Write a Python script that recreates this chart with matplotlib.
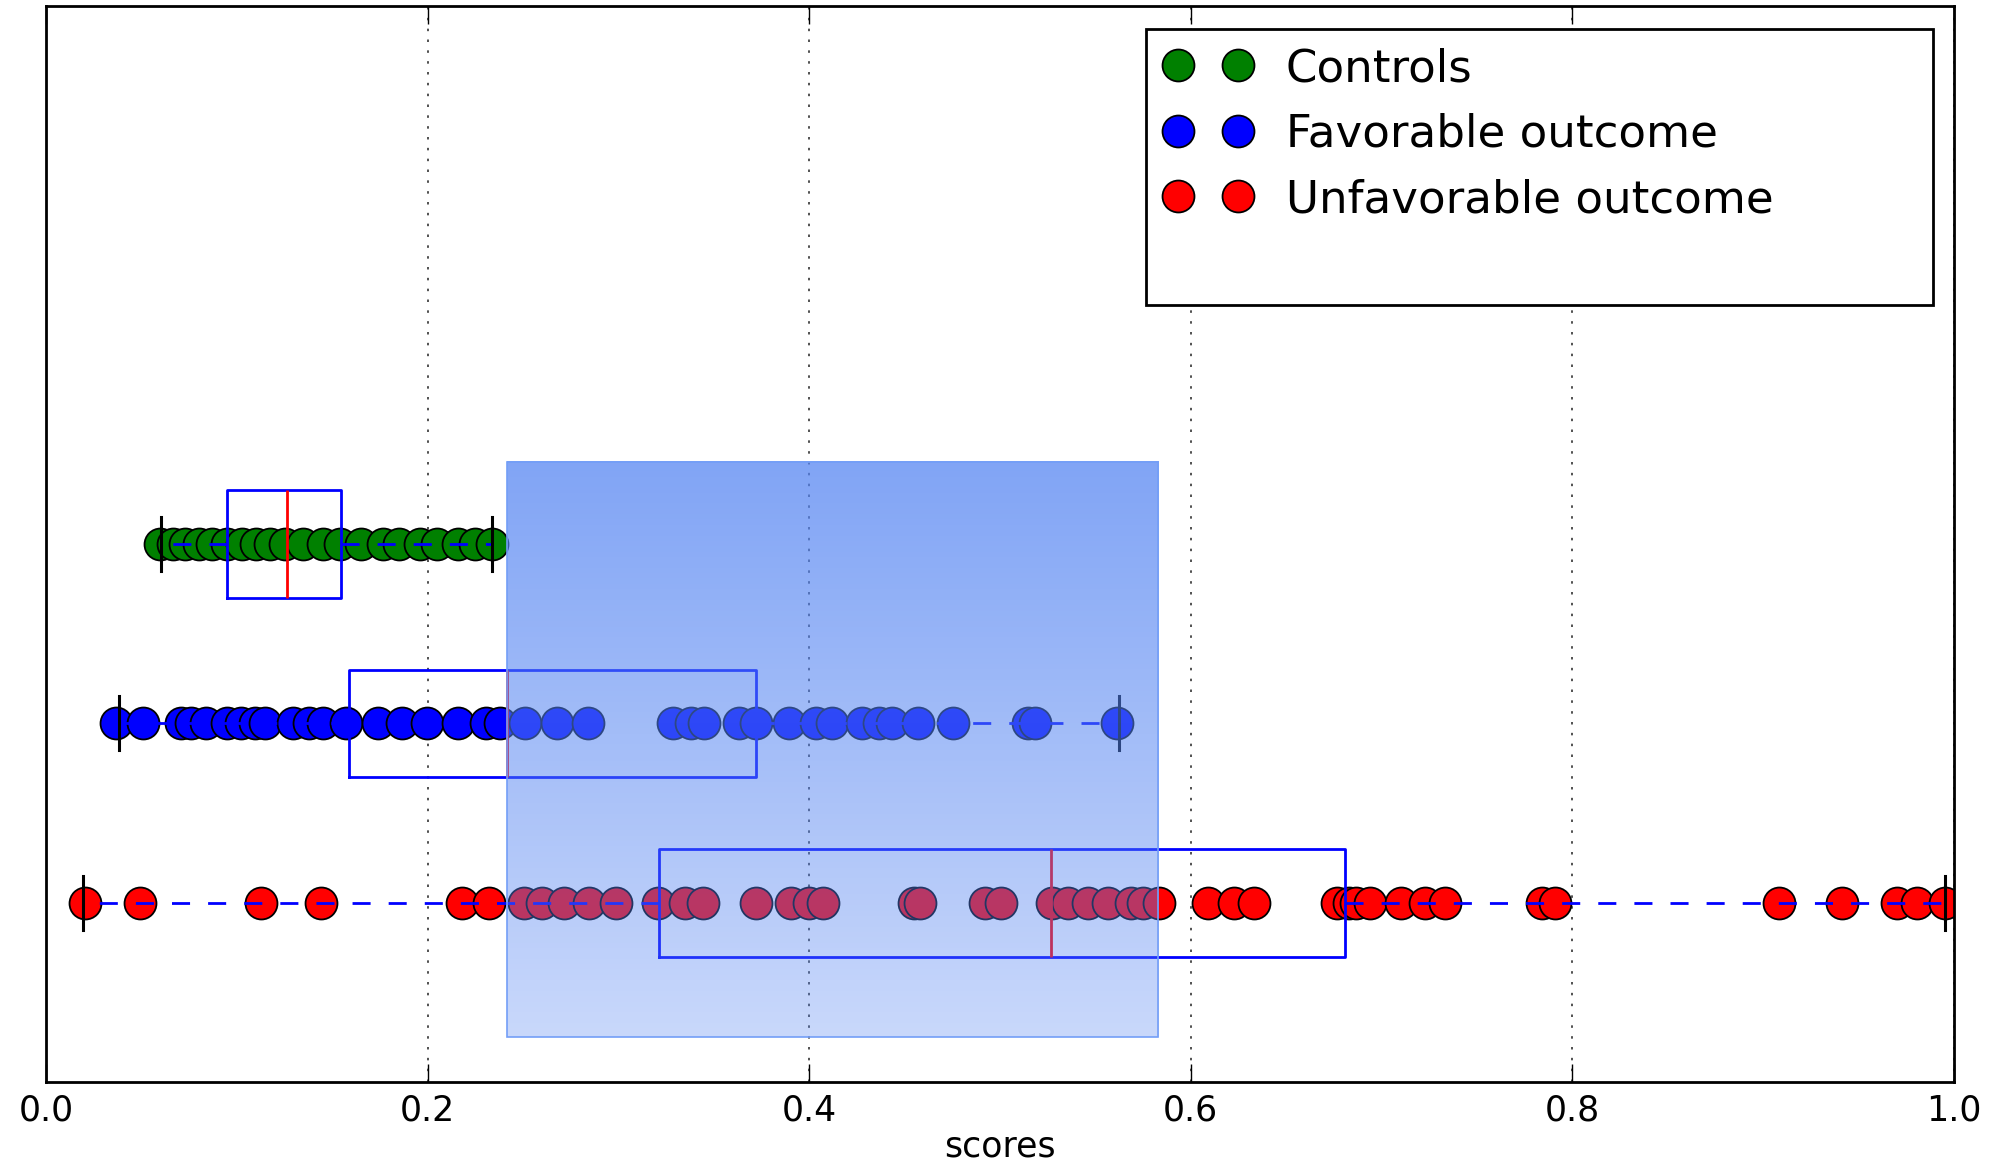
import numpy as np
import matplotlib
matplotlib.use('Agg')
import matplotlib.pyplot as plt
from matplotlib.lines import Line2D
from matplotlib.patches import Rectangle

# scores
controls = [0.0597, 0.0666, 0.0729, 0.080, 0.087, 0.095, 0.1027, 0.110, 0.1174,
            0.125, 0.1347, 0.145, 0.1541, 0.165, 0.1766, 0.185, 0.196, 0.205,
            0.2159, 0.225, 0.2338]
favorable = [0.0367, 0.0508, 0.0708, 0.0760, 0.0839, 0.0949, 0.1020, 0.1095, 0.1150,
             0.1295, 0.1378, 0.1450, 0.1572, 0.1740, 0.1866, 0.1997, 0.2160, 0.2306,
             0.2380, 0.2510, 0.2678, 0.2841, 0.3286, 0.3380, 0.3450, 0.3632, 0.3720,
             0.3894, 0.4036, 0.4120, 0.4277, 0.4366, 0.4434, 0.4570, 0.4754, 0.5147,
             0.5184, 0.5613]
unfavorable = [0.0204, 0.0493, 0.1127, 0.1441, 0.2180, 0.2322, 0.2505, 0.2600, 0.2715,
               0.2846, 0.2987, 0.3208, 0.3349, 0.3443, 0.3721, 0.3905, 0.3999, 0.4072,
               0.4549, 0.4580, 0.4921, 0.5005, 0.5273, 0.5356, 0.5461, 0.5566, 0.5687,
               0.5750, 0.5833, 0.6090, 0.6226, 0.6331, 0.6766, 0.6829, 0.6866, 0.6939,
               0.7102, 0.7227, 0.7332, 0.7841, 0.7909, 0.9083, 0.9413, 0.9701, 0.9806,
               0.9953]

groups = ['Controls', 'Favorable outcome', 'Unfavorable outcome']
colors = [(0, 0.5, 0), (0, 0, 1), (1, 0, 0)]
rows = [3, 2, 1]

# box statistics
q1 = [0.0950, 0.1586, 0.3213]
med = [0.1265, 0.2416, 0.5268]
q3 = [0.1546, 0.3722, 0.6807]
whislo = [0.0602, 0.0382, 0.0194]
whishi = [0.2336, 0.5622, 0.9953]

# shaded band
span_x = (0.2416, 0.583)
span_y = (0.25, 3.457)

fig = plt.figure(figsize=(20.03, 11.6), dpi=100)
ax = fig.add_axes([0.023, 0.0672, 0.9525, 0.9276])

for vals, c, r, name in zip([controls, favorable, unfavorable], colors, rows, groups):
    ax.plot(vals, [r] * len(vals), 'o', color=c, markersize=23,
            markeredgecolor='black', markeredgewidth=1.3, zorder=2)

stats = []
for i in range(3):
    stats.append(dict(q1=q1[i], med=med[i], q3=q3[i], whislo=whislo[i],
                      whishi=whishi[i], fliers=[]))
ax.bxp(stats, positions=rows, widths=0.6, orientation='horizontal',
       showfliers=False, manage_ticks=False,
       boxprops=dict(color='blue', linewidth=2),
       medianprops=dict(color='red', linewidth=2),
       whiskerprops=dict(color='blue', linewidth=2, linestyle=(0, (6.5, 6.5))),
       capprops=dict(color='black', linewidth=2.2),
       zorder=3)

# gradient band on top
grad = np.linspace(0.74, 0.32, 256).reshape(-1, 1)
img = np.zeros((256, 1, 4))
img[..., 0] = 0.33
img[..., 1] = 0.52
img[..., 2] = 0.95
img[..., 3] = grad
ax.imshow(img, extent=[span_x[0], span_x[1], span_y[0], span_y[1]],
          aspect='auto', origin='upper', zorder=4, interpolation='bilinear')
ax.add_patch(Rectangle((span_x[0], span_y[0]), span_x[1] - span_x[0],
                       span_y[1] - span_y[0], fill=False,
                       edgecolor=(0.45, 0.62, 0.97), linewidth=1.2, zorder=5))

ax.set_xlim(0, 1)
ax.set_ylim(0, 6)
ax.set_yticks([])
ax.set_xticks([0.0, 0.2, 0.4, 0.6, 0.8, 1.0])
ax.set_xticklabels(['0.0', '0.2', '0.4', '0.6', '0.8', '1.0'])
ax.tick_params(axis='x', direction='in', top=True, length=13, width=1,
               labelsize=25, pad=8)
ax.grid(axis='x', linestyle=(0, (1.5, 5)), color='#333333', linewidth=1.2)
ax.set_xlabel('scores', fontsize=25, labelpad=2)
for s in ax.spines.values():
    s.set_linewidth(2)

handles = [Line2D([], [], marker='o', linestyle='none', color=c, markersize=23,
                  markeredgecolor='black', markeredgewidth=1.3) for c in colors]
handles.append(Line2D([], [], linestyle='none'))
leg = ax.legend(handles, groups + [' '], loc='upper right', numpoints=2,
                bbox_to_anchor=(0.5765, 0, 0.4125, 0.9786), mode='expand',
                borderaxespad=0, fontsize=32.5, fancybox=False, framealpha=1,
                edgecolor='black', handlelength=1.95, handletextpad=0.75,
                borderpad=0.4, labelspacing=0.5)
leg.get_frame().set_linewidth(2)
leg.set_zorder(10)

fig.savefig('out.png', dpi=100)
